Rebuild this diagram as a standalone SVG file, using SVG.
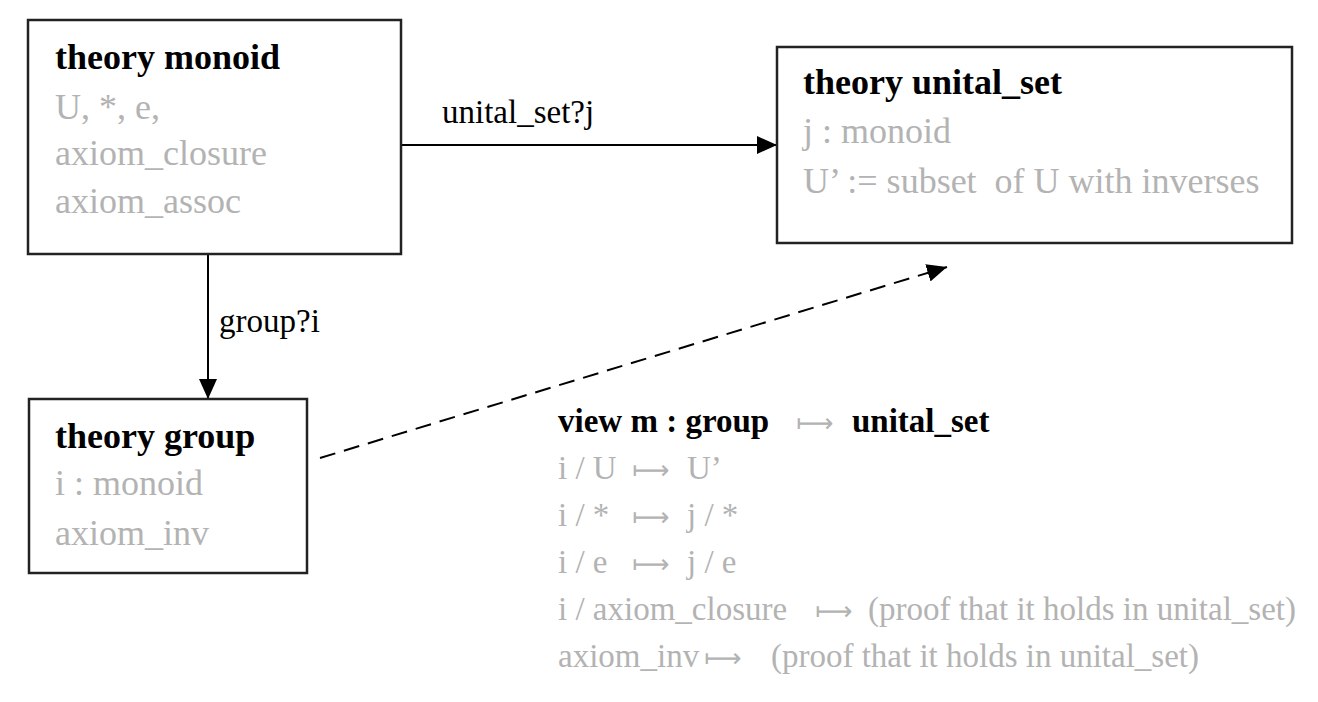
<svg xmlns="http://www.w3.org/2000/svg" width="1318" height="702" viewBox="0 0 1318 702" font-family="'Liberation Serif', Tinos, 'Times New Roman', 'DejaVu Serif', serif">
<style>
.box{fill:#fff;stroke:#222;stroke-width:2.5;}
.t{font-family:'Liberation Serif', Tinos, 'Times New Roman', 'DejaVu Serif', serif;font-size:36px;font-weight:bold;fill:#000;}
.g{font-family:'Liberation Serif', Tinos, 'Times New Roman', 'DejaVu Serif', serif;font-size:36px;fill:#b3b3b3;}
.lbl{font-family:'Liberation Serif', Tinos, 'Times New Roman', 'DejaVu Serif', serif;font-size:33px;fill:#000;}
.vb{font-family:'Liberation Serif', Tinos, 'Times New Roman', 'DejaVu Serif', serif;font-size:33px;font-weight:bold;fill:#000;}
.vg{font-family:'Liberation Serif', Tinos, 'Times New Roman', 'DejaVu Serif', serif;font-size:33px;fill:#b3b3b3;}
.ar{font-family:'DejaVu Sans', sans-serif;font-size:26px;fill:#b3b3b3;}
.edge{stroke:#000;stroke-width:2;fill:none;}
</style>
<defs>
<marker id="ah" viewBox="0 0 20 18" refX="20" refY="9" markerWidth="20" markerHeight="18" markerUnits="userSpaceOnUse" orient="auto">
<path d="M0,0 L20,9 L0,18 Z" fill="#000"/>
</marker>
</defs>
<rect width="1318" height="702" fill="#fff"/>
<g id="connectors">
<line class="edge" x1="401" y1="145" x2="777" y2="145" marker-end="url(#ah)"/>
<line class="edge" x1="208" y1="254" x2="208" y2="399" marker-end="url(#ah)"/>
<line class="edge" x1="320" y1="458" x2="947" y2="267" stroke-dasharray="16 9" marker-end="url(#ah)"/>
<text class="lbl" x="442" y="123">unital_set?j</text>
<text class="lbl" x="219" y="332">group?i</text>
</g>
<g id="node-monoid">
<rect class="box" x="28" y="20" width="373" height="234"/>
<text class="t" x="55" y="69">theory monoid</text>
<text class="g" x="55" y="119">U, *, e,</text>
<text class="g" x="55" y="165">axiom_closure</text>
<text class="g" x="55" y="213">axiom_assoc</text>
</g>
<g id="node-unital_set">
<rect class="box" x="777" y="47" width="515" height="196"/>
<text class="t" x="803" y="94">theory unital_set</text>
<text class="g" x="803" y="143">j : monoid</text>
<text class="g" x="803" y="193">U’ := subset&#160; of U with inverses</text>
</g>
<g id="node-group">
<rect class="box" x="29" y="399" width="278" height="174"/>
<text class="t" x="55" y="448">theory group</text>
<text class="g" x="55" y="495">i : monoid</text>
<text class="g" x="55" y="545">axiom_inv</text>
</g>
<g id="view">
<text class="vb" x="558" y="432">view m : group</text>
<text class="ar" x="796" y="432">⟼</text>
<text class="vb" x="852" y="432">unital_set</text>
<text class="vg" x="558" y="479">i / U</text>
<text class="ar" x="632" y="479">⟼</text>
<text class="vg" x="687" y="479">U’</text>
<text class="vg" x="558" y="526">i / *</text>
<text class="ar" x="632" y="526">⟼</text>
<text class="vg" x="687" y="526">j / *</text>
<text class="vg" x="558" y="573">i / e</text>
<text class="ar" x="632" y="573">⟼</text>
<text class="vg" x="687" y="573">j / e</text>
<text class="vg" x="558" y="620">i / axiom_closure</text>
<text class="ar" x="815" y="620">⟼</text>
<text class="vg" x="1296" y="620" text-anchor="end">(proof that it holds in unital_set)</text>
<text class="vg" x="558" y="667">axiom_inv</text>
<text class="ar" x="704" y="667">⟼</text>
<text class="vg" x="1199" y="667" text-anchor="end">(proof that it holds in unital_set)</text>
</g>
</svg>
